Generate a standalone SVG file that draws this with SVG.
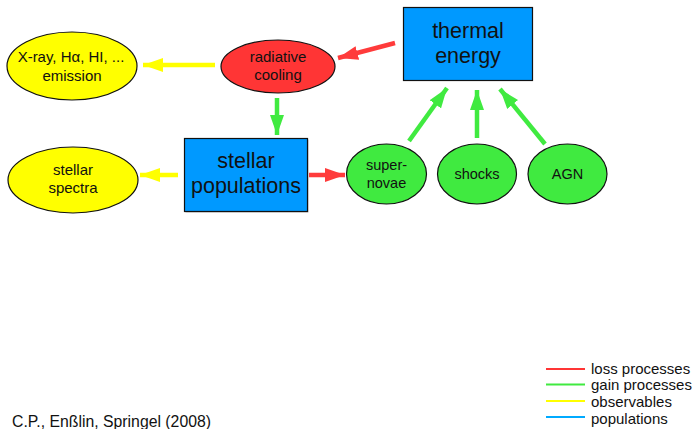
<svg xmlns="http://www.w3.org/2000/svg" width="697" height="429" viewBox="0 0 697 429">
<style>
text{font-family:"Liberation Sans",Arial,sans-serif;fill:#111;text-anchor:middle}
.big{font-size:21.5px}
.mid{font-size:15px}
.sm{font-size:14.5px}
.leg{font-size:15px;text-anchor:start}
.node{stroke:#111;stroke-width:1.2}
.yel{fill:#ffff00}
.red{fill:#ff3535}
.grn{fill:#40ea40}
.blu{fill:#0099ff}
.ay{stroke:#ffff00;stroke-width:4.5;fill:none}
.ag{stroke:#40ea40;stroke-width:4.5;fill:none}
.ar{stroke:#ff3b3b;stroke-width:4.5;fill:none}
</style>
<defs>
<marker id="hy" markerUnits="userSpaceOnUse" markerWidth="20" markerHeight="14" refX="20" refY="7" orient="auto"><path d="M0,0 L20,7 L0,14 z" fill="#ffff00"/></marker>
<marker id="hg" markerUnits="userSpaceOnUse" markerWidth="20" markerHeight="14" refX="20" refY="7" orient="auto"><path d="M0,0 L20,7 L0,14 z" fill="#40ea40"/></marker>
<marker id="hr" markerUnits="userSpaceOnUse" markerWidth="20" markerHeight="14" refX="20" refY="7" orient="auto"><path d="M0,0 L20,7 L0,14 z" fill="#ff3b3b"/></marker>
</defs>
<g id="connectors">
<line class="ay" x1="215" y1="65" x2="143" y2="65" marker-end="url(#hy)"/>
<line class="ay" x1="178" y1="175" x2="140" y2="175" marker-end="url(#hy)"/>
<line class="ag" x1="277" y1="98" x2="277" y2="135" marker-end="url(#hg)"/>
<line class="ar" x1="309" y1="175" x2="345" y2="175" marker-end="url(#hr)"/>
<line class="ar" x1="395" y1="43" x2="338" y2="58" marker-end="url(#hr)"/>
<line class="ag" x1="409" y1="141" x2="447" y2="88" marker-end="url(#hg)"/>
<line class="ag" x1="477" y1="138" x2="477" y2="90" marker-end="url(#hg)"/>
<line class="ag" x1="545" y1="144" x2="500" y2="89" marker-end="url(#hg)"/>
</g>
<g id="xray">
<ellipse class="node yel" cx="72" cy="66" rx="65" ry="34"/>
<text class="mid" x="71" y="62">X-ray, Hα, HI, ...</text>
<text class="mid" x="72" y="81">emission</text>
</g>
<g id="cooling">
<ellipse class="node red" cx="278" cy="66.5" rx="57" ry="26.5"/>
<text class="mid" x="278" y="62">radiative</text>
<text class="mid" x="278" y="80">cooling</text>
</g>
<g id="thermal">
<rect class="node blu" x="403.5" y="7.5" width="129" height="73"/>
<text class="big" x="468" y="38">thermal</text>
<text class="big" x="468" y="63">energy</text>
</g>
<g id="spectra">
<ellipse class="node yel" cx="73" cy="180" rx="65" ry="33"/>
<text class="mid" x="73" y="175">stellar</text>
<text class="mid" x="73" y="193">spectra</text>
</g>
<g id="stellar">
<rect x="185.5" y="139.5" width="123" height="73" fill="#bbbbbb"/>
<rect class="node blu" x="184.5" y="138.5" width="123" height="73"/>
<text class="big" x="246" y="168">stellar</text>
<text class="big" x="246" y="193">populations</text>
</g>
<g id="supernovae">
<ellipse class="node grn" cx="386.5" cy="174" rx="40" ry="30"/>
<text class="sm" x="386.5" y="170">super-</text>
<text class="sm" x="386.5" y="188">novae</text>
</g>
<g id="shocks">
<ellipse class="node grn" cx="477" cy="174" rx="39.5" ry="30"/>
<text class="sm" x="477" y="179">shocks</text>
</g>
<g id="agn">
<ellipse class="node grn" cx="567.5" cy="174" rx="39.5" ry="30"/>
<text class="sm" x="567.5" y="179">AGN</text>
</g>
<g id="legend">
<line x1="546" y1="369" x2="585" y2="369" stroke="#ff3535" stroke-width="2"/>
<line x1="546" y1="384.5" x2="585" y2="384.5" stroke="#40ea40" stroke-width="2"/>
<line x1="546" y1="401" x2="585" y2="401" stroke="#ffff00" stroke-width="2"/>
<line x1="546" y1="417" x2="585" y2="417" stroke="#00aaff" stroke-width="2"/>
<text class="leg" x="591" y="374">loss processes</text>
<text class="leg" x="591" y="390">gain processes</text>
<text class="leg" x="591" y="407">observables</text>
<text class="leg" x="591" y="424">populations</text>
</g>
<text x="12" y="427" style="font-size:15.8px;text-anchor:start">C.P., Enßlin, Springel (2008)</text>
</svg>
